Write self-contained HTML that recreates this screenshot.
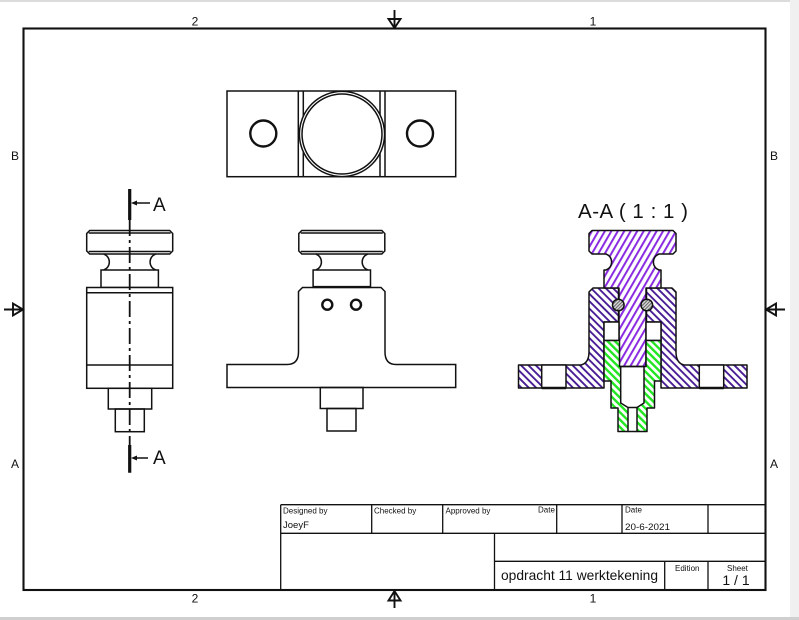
<!DOCTYPE html>
<html>
<head>
<meta charset="utf-8">
<style>
html,body{margin:0;padding:0;background:#fff;width:799px;height:620px;overflow:hidden}
svg{display:block;filter:blur(0.35px)}
text{font-family:"Liberation Sans",sans-serif;fill:#111}
</style>
</head>
<body>
<svg width="799" height="620" viewBox="0 0 799 620" xmlns="http://www.w3.org/2000/svg">
<defs>
<pattern id="hp" width="5.6" height="5.6" patternUnits="userSpaceOnUse" patternTransform="rotate(30)"><rect width="5.6" height="5.6" fill="#fff"/><rect width="2" height="5.6" fill="#8a2be2"/></pattern>
<pattern id="hd" width="5.2" height="5.2" patternUnits="userSpaceOnUse" patternTransform="rotate(-45)"><rect width="5.2" height="5.2" fill="#fff"/><rect width="1.9" height="5.2" fill="#4a1f96"/></pattern>
<pattern id="hg" width="5.2" height="5.2" patternUnits="userSpaceOnUse" patternTransform="rotate(-45)"><rect width="5.2" height="5.2" fill="#fff"/><rect width="2.4" height="5.2" fill="#22e622"/></pattern>
<pattern id="hb" width="2.4" height="2.4" patternUnits="userSpaceOnUse" patternTransform="rotate(45)"><rect width="2.4" height="2.4" fill="#ddd"/><rect width="1.1" height="2.4" fill="#666"/></pattern>
<g id="knob" fill="none" stroke="#111" stroke-width="1.5">
<path d="M-43,233.5 L-40,230.5 H40 L43,233.5 V251 L40,254 H-40 L-43,251 Z" fill="#fff"/>
<path d="M-41,233 H41 M-41,251.5 H41"/>
<path d="M-26,254 A8.5 8.5 0 0 1 -26,270 M26,254 A8.5 8.5 0 0 0 26,270"/>
<rect x="-28.7" y="270" width="57.4" height="17.5" fill="#fff"/>
</g>
</defs>

<!-- page edges -->
<rect x="0" y="0" width="799" height="620" fill="#fff"/>
<rect x="0" y="0" width="799" height="2" fill="#dcdcdc"/>
<rect x="790" y="0" width="9" height="620" fill="#f0f0f0"/>
<rect x="0" y="617" width="799" height="3" fill="#cfcfcf"/>

<!-- frame -->
<rect x="23.5" y="28.5" width="742" height="561.5" fill="none" stroke="#111" stroke-width="2.1"/>

<!-- border labels -->
<g font-size="12" text-anchor="middle">
<text x="195" y="25.5">2</text>
<text x="593" y="25.5">1</text>
<text x="195" y="602.5">2</text>
<text x="593" y="602.5">1</text>
<text x="15" y="160">B</text>
<text x="774" y="160">B</text>
<text x="15" y="468">A</text>
<text x="774" y="468">A</text>
</g>

<!-- center arrows -->
<g fill="none" stroke="#111" stroke-width="1.9" stroke-linejoin="miter">
<path d="M394.5,10 V28 M388.5,19 H400.5 L394.5,28 Z"/>
<path d="M394.5,591 V608 M388.5,600.5 H400.5 L394.5,591 Z"/>
<path d="M4,309.5 H23 M13,303.5 V315.5 L23,309.5 Z"/>
<path d="M785,309.5 H766 M776,303.5 V315.5 L766,309.5 Z"/>
</g>

<!-- top view -->
<g fill="none" stroke="#111" stroke-width="1.5">
<rect x="227" y="91" width="228.7" height="85.7"/>
<path d="M298.3,91 V176.7 M303.3,91 V176.7 M380,91 V176.7 M385,91 V176.7"/>
<circle cx="342" cy="134" r="42.6" fill="#fff"/>
<circle cx="342" cy="134" r="40"/>
<circle cx="263.3" cy="133.5" r="13" stroke-width="2.4"/>
<circle cx="420" cy="133.5" r="13" stroke-width="2.4"/>
</g>

<!-- left view -->
<g fill="none" stroke="#111" stroke-width="1.5">
<use href="#knob" transform="translate(129.7,0)"/>
<rect x="86.7" y="287.5" width="86" height="100.8" fill="#fff"/>
<path d="M86.7,292.7 H172.7 M86.7,365 H172.7"/>
<rect x="108.3" y="388.3" width="43.4" height="20.7"/>
<rect x="115.3" y="409" width="29" height="22.7"/>
<path d="M129.7,220 V445" stroke-width="1.8" stroke-dasharray="16 4 3 4"/>
<path d="M129.7,189 V220 M129.7,445 V472.7" stroke-width="3.2"/>
<path d="M134,203 H150 M134,458 H148" stroke-width="1.5"/>
</g>
<path d="M131,203 L137,200.5 V205.5 Z M131,458 L137,455.5 V460.5 Z" fill="#111"/>
<text x="153" y="211" font-size="19">A</text>
<text x="153" y="464" font-size="19">A</text>

<!-- middle view -->
<g fill="none" stroke="#111" stroke-width="1.5">
<use href="#knob" transform="translate(341.8,0)"/>
<path d="M298.5,291.5 L302.5,287.5 H381 L385,291.5 V352 Q385,364.5 396,364.5 H455.7 V387.5 H227 V364.5 H287 Q298.5,364.5 298.5,352 Z" fill="#fff"/>
<path d="M312.7,287 H370.7" stroke-width="2.2"/>
<rect x="320.3" y="387.5" width="42.7" height="21"/>
<rect x="327" y="408.5" width="29" height="22.5"/>
<circle cx="327.3" cy="304.7" r="5" stroke-width="2.4"/>
<circle cx="356" cy="304.7" r="5" stroke-width="2.4"/>
</g>

<!-- section view -->
<text x="633" y="218" font-size="20.5" text-anchor="middle" textLength="110" lengthAdjust="spacing">A-A ( 1 : 1 )</text>
<g stroke="#111" stroke-width="1.5" stroke-linejoin="round">
<path d="M518.5,365 H581 Q589,363 589,352 V292 L593,288 H618.5 V322 H604 V388 H518.5 Z" fill="url(#hd)"/>
<path d="M747,365 H684 Q676,363 676,352 V292 L672,288 H646.5 V322 H661 V388 H747 Z" fill="url(#hd)"/>
<rect x="541.7" y="365" width="24.3" height="23" fill="#fff"/>
<rect x="699.3" y="365" width="24.4" height="23" fill="#fff"/>
<path d="M541.7,388 H566 M699.3,388 H723.7" stroke-width="2.4" fill="none"/>
<path d="M592,230.5 H673 L676,233.5 V251 L673,254 H659 A8.5 8.5 0 0 0 659,270 H661 V288 H646 V366.5 H619 V288 H604 V270 H606 A8.5 8.5 0 0 0 606,254 H592 L589,251 V233.5 Z" fill="url(#hp)"/>
<rect x="604" y="322" width="15" height="18.5" fill="#fff"/>
<rect x="646" y="322" width="15" height="18.5" fill="#fff"/>
<path d="M604,340.5 H619.5 V366.5 H620.7 V403 L628,407.5 V431.5 H618 V408 H611 V381 H604 Z" fill="url(#hg)"/>
<path d="M661,340.5 H646 V366.5 H644 V403 L637,407.5 V431.5 H647 V408 H654.5 V381 H661 Z" fill="url(#hg)"/>
<path d="M620.7,366.5 H644 M628,407.5 H637 M628,431.5 H637" fill="none"/>
<circle cx="618.3" cy="305" r="5.8" fill="url(#hb)"/>
<circle cx="646.8" cy="305" r="5.8" fill="url(#hb)"/>
</g>

<!-- title block -->
<g fill="none" stroke="#111" stroke-width="1.3">
<path d="M280.7,504.7 H765.5 M280.7,533.3 H765.5 M494.5,561.3 H765.5" />
<path d="M280.7,504.7 V590 M371.7,504.7 V533.3 M442.7,504.7 V533.3 M556.7,504.7 V533.3 M622,504.7 V533.3 M708,504.7 V533.3 M494.5,533.3 V590 M664.7,561.3 V590 M708,561.3 V590"/>
</g>
<g font-size="8">
<text x="283" y="513.5">Designed by</text>
<text x="374" y="513.5">Checked by</text>
<text x="445.5" y="513.5">Approved by</text>
<text x="538" y="512.5">Date</text>
<text x="625" y="512.5">Date</text>
<text x="675" y="571">Edition</text>
<text x="727" y="571">Sheet</text>
</g>
<text x="283" y="528" font-size="9.5">JoeyF</text>
<text x="625" y="530" font-size="9.5" textLength="45" lengthAdjust="spacingAndGlyphs">20-6-2021</text>
<text x="501" y="580" font-size="14" textLength="157" lengthAdjust="spacingAndGlyphs">opdracht 11 werktekening</text>
<text x="736" y="585" font-size="14" text-anchor="middle">1 / 1</text>
</svg>
</body>
</html>
